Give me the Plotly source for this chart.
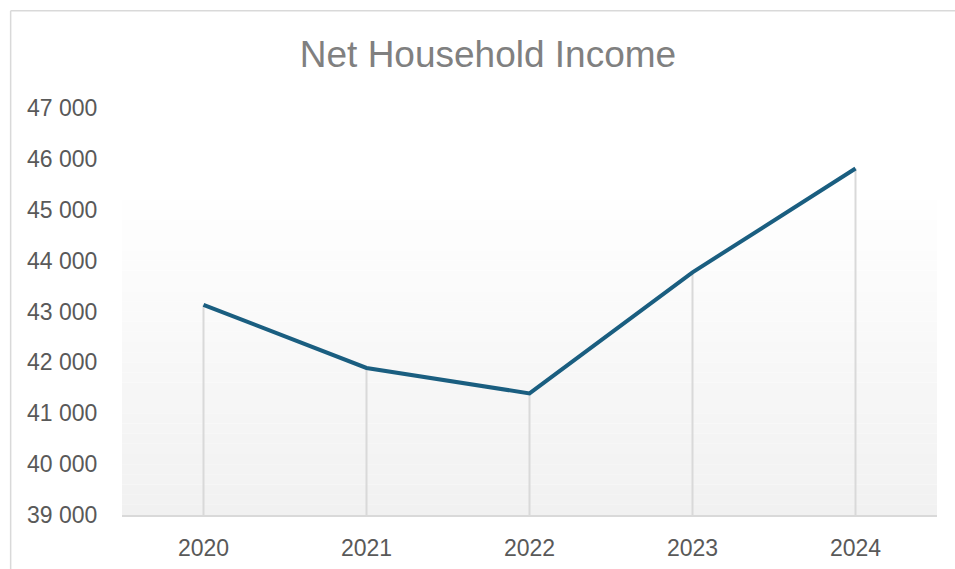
import plotly.graph_objects as go

years = ["2020", "2021", "2022", "2023", "2024"]
income = [43130, 41890, 41390, 43770, 45810]
y_ticks = [39000, 40000, 41000, 42000, 43000, 44000, 45000, 46000, 47000]
y_tick_labels = ["39 000", "40 000", "41 000", "42 000", "43 000", "44 000", "45 000", "46 000", "47 000"]
y_min, y_max = 39000, 47000

W, H = 955, 569
L, R, T, B = 121.5, 17.5, 107.5, 53.5
pw, ph = W - L - R, H - T - B

fig = go.Figure()

# drop lines
dx, dy = [], []
for c, v in zip(years, income):
    dx += [c, c, None]
    dy += [y_min, v, None]
fig.add_trace(go.Scatter(x=dx, y=dy, mode="lines",
                         line=dict(color="#d9d9d9", width=2),
                         hoverinfo="skip", showlegend=False))

fig.add_trace(go.Scatter(x=years, y=income, mode="lines",
                         line=dict(color="#1a5e80", width=4),
                         showlegend=False))

shapes = []
# gradient background in plot area
n = 40
for i in range(n):
    f0, f1 = i / n, (i + 1) / n
    t = (f0 + f1) / 2  # 0 at bottom
    g = 1 - t
    val = round(255 - 14 * max(0.0, (g - 0.2) / 0.8))
    col = f"rgb({val},{val},{val})"
    shapes.append(dict(type="rect", xref="x domain", yref="y domain",
                       x0=0, x1=1, y0=f0, y1=f1, fillcolor=col,
                       line=dict(width=0), layer="below"))

def px(x):
    return (x - L) / pw

def py(y):
    return (H - B - y) / ph

# chart border (left and top)
shapes.append(dict(type="line", xref="paper", yref="paper",
                   x0=px(10), x1=px(10), y0=py(10), y1=py(575),
                   line=dict(color="#d9d9d9", width=1.5)))
shapes.append(dict(type="line", xref="paper", yref="paper",
                   x0=px(10), x1=px(960), y0=py(10), y1=py(10),
                   line=dict(color="#d9d9d9", width=1.5)))

fig.update_layout(
    width=W, height=H,
    margin=dict(l=L, r=R, t=T, b=B, autoexpand=False),
    paper_bgcolor="white", plot_bgcolor="white",
    shapes=shapes,
    title=dict(text="Net Household Income", x=488 / W, xanchor="center",
               y=1 - 54 / H, yanchor="middle",
               font=dict(family="Liberation Sans, Arial", size=37, color="#808080")),
    font=dict(family="Liberation Sans, Arial", size=23, color="#595959"),
)
fig.update_xaxes(type="category", range=[-0.5, 4.5], showgrid=False, automargin=False,
                 showline=True, linecolor="#d9d9d9", linewidth=2,
                 ticks="outside", ticklen=11, tickcolor="rgba(0,0,0,0)",
                 tickfont=dict(size=23, color="#595959"), zeroline=False)
fig.update_yaxes(range=[y_min, y_max], tickvals=y_ticks, ticktext=y_tick_labels,
                 showgrid=False, showline=False, zeroline=False, automargin=False,
                 ticks="outside", ticklen=19, tickcolor="rgba(0,0,0,0)",
                 tickfont=dict(size=23, color="#595959"))

fig.write_html("out.html")
